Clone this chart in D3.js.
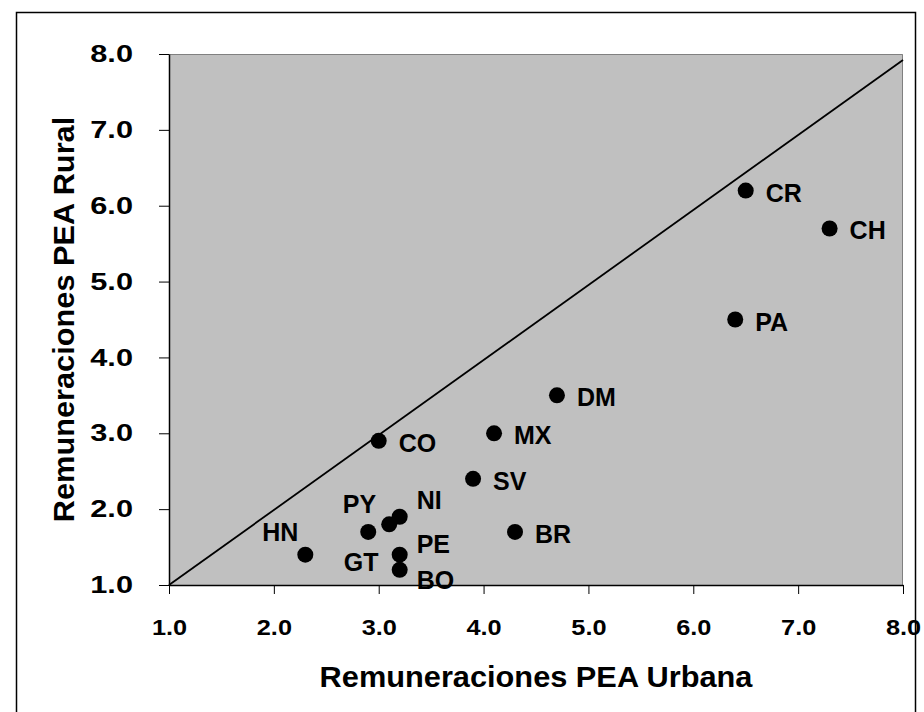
<!DOCTYPE html>
<html>
<head>
<meta charset="utf-8">
<script src="https://cdn.jsdelivr.net/npm/d3@7"></script>
<style>
  body { margin: 0; background: #fff; }
  text { font-family: "Liberation Sans", Arial, sans-serif; font-weight: bold; fill: #000; }
</style>
</head>
<body>
<script>
// country codes, urban (x) and rural (y) remuneration
var codes = ["CR", "CH", "PA", "DM", "MX", "CO", "SV", "BR", "NI", "PY", "GT", "HN", "PE", "BO"];
var urbana = [6.5, 7.3, 6.4, 4.7, 4.1, 3.0, 3.9, 4.3, 3.2, 3.1, 2.9, 2.3, 3.2, 3.2];
var rural  = [6.2, 5.7, 4.5, 3.5, 3.0, 2.9, 2.4, 1.7, 1.9, 1.8, 1.7, 1.4, 1.4, 1.2];
var ticks = [1, 2, 3, 4, 5, 6, 7, 8];
var diagonal = [[1, 1], [8, 7.92]];

// label placement (offset from the dot, pixels)
var labelPos = {
    NI: [17, -8, "start"], PE: [17, -2, "start"], BO: [17, 19, "start"],
    HN: [-7, -14, "end"], PY: [-13, -11, "end"], GT: [-7, 39, "middle"]
};

var points = codes.map(function (c, i) {
    return {code: c, x: urbana[i], y: rural[i]};
});

var W = 924, H = 712;
var margin = {top: 54, right: 21, bottom: 127, left: 169},
    width = W - margin.left - margin.right,
    height = H - margin.top - margin.bottom;

var svg = d3.select("body").append("svg")
    .attr("width", W)
    .attr("height", H);

// outer chart border
svg.append("rect")
    .attr("x", 16.5).attr("y", 12.5)
    .attr("width", 899).attr("height", 720)
    .attr("fill", "none")
    .attr("stroke", "#000")
    .attr("stroke-width", 1.5);

var g = svg.append("g")
    .attr("transform", "translate(" + margin.left + "," + margin.top + ")");

var x = d3.scaleLinear().domain([1, 8]).range([0, width]);
var y = d3.scaleLinear().domain([1, 8]).range([height, 0]);

g.append("rect")
    .attr("width", width).attr("height", height)
    .attr("fill", "#c0c0c0");
g.append("path")
    .attr("d", "M0,0.5H" + (width - 0.5) + "V" + height)
    .attr("fill", "none")
    .attr("stroke", "#808080")
    .attr("stroke-width", 1);

function stretch(sel, f) {
    sel.each(function () {
        var len = this.getComputedTextLength();
        d3.select(this).attr("textLength", len * f).attr("lengthAdjust", "spacingAndGlyphs");
    });
}

var fmt = d3.format(".1f");

var xAxis = g.append("g")
    .attr("transform", "translate(0," + height + ")")
    .call(d3.axisBottom(x).tickValues(ticks).tickFormat(fmt).tickSize(9).tickPadding(25).tickSizeOuter(0));
var yAxis = g.append("g")
    .call(d3.axisLeft(y).tickValues(ticks).tickFormat(fmt).tickSize(10).tickPadding(26).tickSizeOuter(0));

[xAxis, yAxis].forEach(function (a) {
    a.select(".domain").attr("stroke", "#000").attr("stroke-width", 1.5);
    a.selectAll(".tick line").attr("stroke", "#000").attr("stroke-width", 1);
    a.selectAll("text").attr("font-family", null).style("font-weight", "bold").attr("fill", "#000");
});
xAxis.selectAll("text").style("font-size", "22px").call(stretch, 1.15);
yAxis.selectAll("text").style("font-size", "24px").call(stretch, 1.28);

// reference line
g.append("line")
    .attr("x1", x(diagonal[0][0])).attr("y1", y(diagonal[0][1]))
    .attr("x2", x(diagonal[1][0])).attr("y2", y(diagonal[1][1]))
    .attr("stroke", "#000")
    .attr("stroke-width", 1.8);

g.selectAll("circle.pt")
    .data(points)
    .enter().append("circle")
    .attr("class", "pt")
    .attr("cx", function (d) { return x(d.x); })
    .attr("cy", function (d) { return y(d.y); })
    .attr("r", 8)
    .attr("fill", "#000");

g.selectAll("text.lbl")
    .data(points)
    .enter().append("text")
    .attr("class", "lbl")
    .attr("x", function (d) { return x(d.x) + (labelPos[d.code] ? labelPos[d.code][0] : 20); })
    .attr("y", function (d) { return y(d.y) + (labelPos[d.code] ? labelPos[d.code][1] : 11); })
    .attr("text-anchor", function (d) { return labelPos[d.code] ? labelPos[d.code][2] : "start"; })
    .style("font-size", "25px")
    .text(function (d) { return d.code; });

// axis titles
svg.append("text")
    .attr("x", margin.left + width / 2)
    .attr("y", 687)
    .attr("text-anchor", "middle")
    .style("font-size", "29px")
    .text("Remuneraciones PEA Urbana")
    .call(stretch, 1.06);

svg.append("text")
    .attr("transform", "translate(74," + (margin.top + height / 2) + ") rotate(-90)")
    .attr("text-anchor", "middle")
    .style("font-size", "29px")
    .text("Remuneraciones PEA Rural")
    .call(stretch, 1.06);
</script>
</body>
</html>
